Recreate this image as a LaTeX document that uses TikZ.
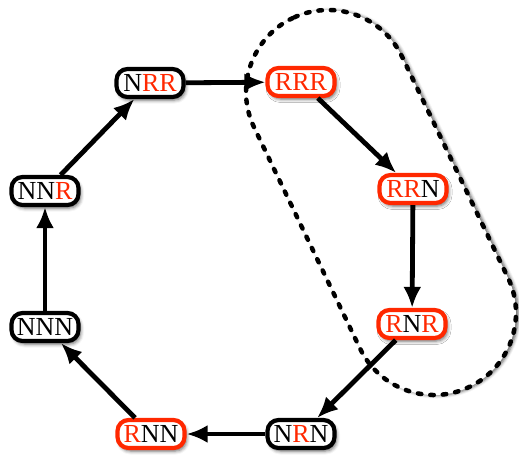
\documentclass[tikz,border=0pt]{standalone}
\usepackage{fontspec}
\setmainfont{Liberation Serif}
\usetikzlibrary{arrows.meta,shadows.blur}
\definecolor{myred}{RGB}{255,40,0}
\newcommand{\rr}{\textcolor{myred}{R}}
\begin{document}
\begin{tikzpicture}[x=1pt,y=-1pt,
  state/.style={draw=black, line width=4.2pt, rounded corners=11pt, fill=white,
    minimum width=67pt, minimum height=28pt, inner sep=0pt,
    font=\fontsize{26}{28}\selectfont,
    blur shadow={shadow xshift=2pt, shadow yshift=-3pt, shadow blur radius=3.5pt, shadow opacity=60}},
  rstate/.style={state, draw=myred},
  edge/.style={line width=4.8pt, -{Latex[length=21pt,width=18pt]}},
  capsule/.style={draw=black, line width=4.5pt, dash pattern=on 3.5pt off 9pt, line cap=round, fill=white,
    blur shadow={shadow xshift=2.5pt, shadow yshift=-0.5pt, shadow blur radius=3pt, shadow opacity=60}}]
\useasboundingbox (0,0) rectangle (519,459);
\begin{scope}[shift={(381,202.5)}, rotate=-64.4]
  \path[capsule, rounded corners=81.9pt] (-204.5,-82) rectangle (204.5,82);
\end{scope}
\node[state]  (NRR) at (150,83)  {N\rr\rr};
\node[rstate] (RRR) at (301,82)  {\rr\rr\rr};
\node[rstate] (RRN) at (413,189) {\rr\rr N};
\node[rstate] (RNR) at (412,324) {\rr N\rr};
\node[state]  (NRN) at (301,434) {N\rr N};
\node[rstate] (RNN) at (151,434) {\rr NN};
\node[state]  (NNN) at (45,327)  {NNN};
\node[state]  (NNR) at (45,191)  {NN\rr};
\draw[edge] (NRR) -- (RRR);
\draw[edge] (RRR) -- (RRN);
\draw[edge] (RRN) -- (RNR);
\draw[edge] (RNR) -- (NRN);
\draw[edge] (NRN) -- (RNN);
\draw[edge] (RNN) -- (NNN);
\draw[edge] (NNN) -- (NNR);
\draw[edge] (NNR) -- (NRR);
\end{tikzpicture}
\end{document}
